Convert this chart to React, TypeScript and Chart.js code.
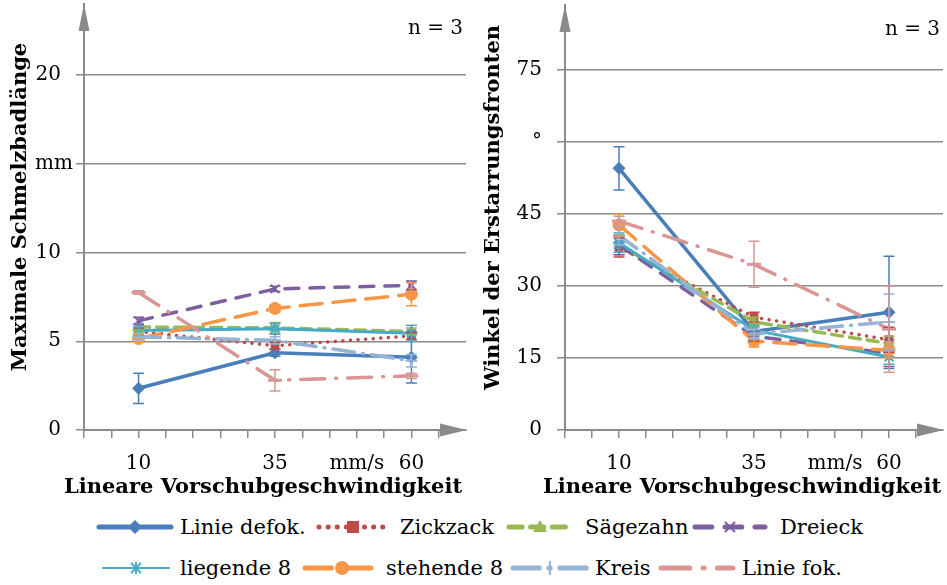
import React, { useEffect, useRef } from 'react';
import { Chart, registerables } from 'chart.js';

Chart.register(...registerables);

// ---------- data ----------
const speeds = [10, 35, 60];
const seriesNames = ['Linie defok.', 'Zickzack', 'Sägezahn', 'Dreieck', 'liegende 8', 'stehende 8', 'Kreis', 'Linie fok.'];

// left panel: Maximale Schmelzbadlänge (mm)
const lenLinieDefok = [2.35, 4.35, 4.1];
const lenZickzack = [5.55, 4.75, 5.3];
const lenSaegezahn = [5.8, 5.75, 5.55];
const lenDreieck = [6.15, 7.95, 8.15];
const lenLiegende8 = [5.6, 5.7, 5.45];
const lenStehende8 = [5.15, 6.85, 7.65];
const lenKreis = [5.25, 5.05, 3.9];
const lenLinieFok = [7.75, 2.8, 3.05];

const lenErrLinieDefok = [0.85, 0.2, 1.45];
const lenErrZickzack = [0.2, 0.2, 0.2];
const lenErrSaegezahn = [0.2, 0.3, 0.2];
const lenErrDreieck = [0.2, 0.15, 0.25];
const lenErrLiegende8 = [0.2, 0.3, 0.45];
const lenErrStehende8 = [0.2, 0.2, 0.65];
const lenErrKreis = [0.2, 0.2, 0.35];
const lenErrLinieFok = [0.1, 0.6, 0.15];

// right panel: Winkel der Erstarrungsfronten (°)
const angLinieDefok = [54.5, 20.5, 24.5];
const angZickzack = [38, 23.5, 18.8];
const angSaegezahn = [38.5, 22.5, 18];
const angDreieck = [38.5, 19.5, 16];
const angLiegende8 = [39, 20.8, 15.2];
const angStehende8 = [42.7, 18.5, 16.6];
const angKreis = [40.5, 20, 22.5];
const angLinieFok = [43.5, 34.5, 21];

const angErrLinieDefok = [4.5, 1, 11.7];
const angErrZickzack = [2, 1, 2.6];
const angErrSaegezahn = [2, 1, 1.5];
const angErrDreieck = [2, 1, 2.8];
const angErrLiegende8 = [2, 1, 1.5];
const angErrStehende8 = [2.3, 1.2, 1.5];
const angErrKreis = [2, 1, 5.8];
const angErrLinieFok = [1, 4.8, 9];

// axis ticks
const xMinorTicks = [0, 5, 10, 15, 20, 25, 30, 35, 40, 45, 50, 55, 60, 65];
const xLabelValues = [10, 35, 50, 60];
const xLabelTexts = ['10', '35', 'mm/s', '60'];
const lenTickValues = [0, 5, 10, 15, 20];
const lenTickTexts = ['0', '5', '10', '', '20'];
const lenUnitValue = 15;
const lenUnitText = 'mm';
const angTickValues = [0, 15, 30, 45, 60, 75];
const angTickTexts = ['0', '15', '30', '45', '°', '75'];
const xTitle = 'Lineare Vorschubgeschwindigkeit';

// ---------- styles ----------
const colors = ['#4A7EBB', '#BE4B48', '#98B954', '#7D5FA0', '#46AAC5', '#F79646', '#95B3D7', '#D99694'];
const dashes: number[][] = [[], [0.1, 7.5], [11, 7], [14, 11], [], [22, 11], [22, 8, 1, 8], [24, 11, 1, 11]];
const widths = [3.5, 3.5, 3.5, 3.5, 3, 3.5, 3.5, 3.5];
const markers = ['rectRot', 'rect', 'triangle', 'crossRot', 'star', 'circle', 'cross', 'line'];
const markerRadius = [6, 5.5, 6, 6, 6, 6, 6, 7];
const markerBorder = [1, 1, 1, 2, 2, 1, 2, 3];

const GRAY = '#8a8a8a';
const FONT = 'DejaVu Serif';

type PanelSpec = {
  values: number[][];
  errors: number[][];
  yMax: number;
  yTickValues: number[];
  yTickTexts: string[];
  unitValue?: number;
  unitText?: string;
  yTitle: string;
  yAxisWidth: number;
  yTitleX: number;
  padTop: number;
};

const errorBarPlugin = {
  id: 'errorBars',
  afterDatasetsDraw(chart: any) {
    const ctx = chart.ctx;
    const xs = chart.scales.x;
    const ys = chart.scales.y;
    chart.data.datasets.forEach((ds: any) => {
      const errs: number[] = ds.errorBars || [];
      ctx.save();
      ctx.strokeStyle = ds.borderColor;
      ctx.lineWidth = 1.5;
      ds.data.forEach((p: any, j: number) => {
        const e = errs[j];
        if (!e) return;
        const x = xs.getPixelForValue(p.x);
        const y1 = ys.getPixelForValue(p.y + e);
        const y2 = ys.getPixelForValue(p.y - e);
        ctx.beginPath();
        ctx.moveTo(x, y1);
        ctx.lineTo(x, y2);
        ctx.moveTo(x - 5.5, y1);
        ctx.lineTo(x + 5.5, y1);
        ctx.moveTo(x - 5.5, y2);
        ctx.lineTo(x + 5.5, y2);
        ctx.stroke();
      });
      ctx.restore();
    });
  },
};

function decorPlugin(spec: PanelSpec) {
  return {
    id: 'decor',
    afterDraw(chart: any) {
      const ctx = chart.ctx;
      const { left, top, right, bottom } = chart.chartArea;
      ctx.save();
      // axis arrows
      ctx.fillStyle = GRAY;
      ctx.beginPath();
      ctx.moveTo(left, top);
      ctx.lineTo(left - 5.5, top + 27);
      ctx.lineTo(left + 5.5, top + 27);
      ctx.closePath();
      ctx.fill();
      ctx.beginPath();
      ctx.moveTo(right + 1, bottom);
      ctx.lineTo(right - 26, bottom - 6.5);
      ctx.lineTo(right - 26, bottom + 6.5);
      ctx.closePath();
      ctx.fill();

      ctx.fillStyle = '#000';
      // sample size note
      ctx.font = `20px "${FONT}"`;
      ctx.textAlign = 'right';
      ctx.textBaseline = 'middle';
      ctx.fillText('n = 3', right - 3, top + 25);

      // unit label on y axis
      if (spec.unitText && spec.unitValue !== undefined) {
        ctx.font = `20px "${FONT}"`;
        ctx.textAlign = 'right';
        ctx.fillText(spec.unitText, left - 11, chart.scales.y.getPixelForValue(spec.unitValue));
      }

      // axis titles
      ctx.font = `bold 21px "${FONT}"`;
      ctx.textAlign = 'center';
      ctx.fillText(xTitle, (left + right) / 2 - 12, bottom + 58);

      ctx.translate(spec.yTitleX, (top + bottom) / 2 - 10);
      ctx.rotate(-Math.PI / 2);
      ctx.fillText(spec.yTitle, 0, 0);
      ctx.restore();
    },
  };
}

function buildConfig(spec: PanelSpec): any {
  return {
    type: 'line',
    data: {
      datasets: spec.values.map((vals, i) => ({
        label: seriesNames[i],
        data: vals.map((y, j) => ({ x: speeds[j], y })),
        errorBars: spec.errors[i],
        borderColor: colors[i],
        backgroundColor: colors[i],
        borderWidth: widths[i],
        borderDash: dashes[i],
        borderCapStyle: 'round',
        borderJoinStyle: 'round',
        pointStyle: markers[i],
        pointRadius: markerRadius[i],
        pointBorderWidth: markerBorder[i],
        pointBorderColor: colors[i],
        pointBackgroundColor: colors[i],
        tension: 0,
        order: seriesNames.length - i,
      })),
    },
    options: {
      responsive: false,
      animation: false,
      devicePixelRatio: 1,
      layout: { autoPadding: false, padding: { top: spec.padTop, right: 4, left: 0, bottom: 0 } },
      plugins: { legend: { display: false }, tooltip: { enabled: false } },
      scales: {
        x: {
          type: 'linear',
          min: 0,
          max: 70,
          afterBuildTicks: (s: any) => {
            s.ticks = xMinorTicks.map((v) => ({ value: v }));
          },
          afterFit: (s: any) => {
            s.height = 75;
            s.paddingLeft = 0;
            s.paddingRight = 0;
            s.paddingTop = 0;
            s.paddingBottom = 0;
          },
          ticks: {
            autoSkip: false,
            maxRotation: 0,
            padding: 14,
            color: '#000',
            font: { family: FONT, size: 20 },
            callback: (v: any) => {
              const k = xLabelValues.indexOf(Number(v));
              return k >= 0 ? xLabelTexts[k] : '';
            },
          },
          grid: { drawOnChartArea: false, drawTicks: true, tickLength: 8, color: GRAY, lineWidth: 1.5 },
          border: { display: true, color: GRAY, width: 2 },
          title: { display: false },
        },
        y: {
          type: 'linear',
          min: 0,
          max: spec.yMax,
          afterBuildTicks: (s: any) => {
            s.ticks = spec.yTickValues.map((v) => ({ value: v }));
          },
          afterFit: (s: any) => {
            s.width = spec.yAxisWidth;
            s.paddingTop = 0;
            s.paddingBottom = 0;
            s.paddingLeft = 0;
            s.paddingRight = 0;
          },
          ticks: {
            padding: 15,
            color: '#000',
            font: { family: FONT, size: 20 },
            callback: (v: any) => {
              const k = spec.yTickValues.indexOf(Number(v));
              return k >= 0 ? spec.yTickTexts[k] : '';
            },
          },
          grid: { color: GRAY, lineWidth: 1.5, tickLength: 8, drawTicks: true },
          border: { display: true, color: GRAY, width: 2 },
          title: { display: false },
        },
      },
    },
    plugins: [errorBarPlugin, decorPlugin(spec)],
  };
}

const leftSpec: PanelSpec = {
  values: [lenLinieDefok, lenZickzack, lenSaegezahn, lenDreieck, lenLiegende8, lenStehende8, lenKreis, lenLinieFok],
  errors: [lenErrLinieDefok, lenErrZickzack, lenErrSaegezahn, lenErrDreieck, lenErrLiegende8, lenErrStehende8, lenErrKreis, lenErrLinieFok],
  yMax: 24,
  yTickValues: lenTickValues,
  yTickTexts: lenTickTexts,
  unitValue: lenUnitValue,
  unitText: lenUnitText,
  yTitle: 'Maximale Schmelzbadlänge',
  yAxisWidth: 84,
  yTitleX: 21,
  padTop: 4,
};

const rightSpec: PanelSpec = {
  values: [angLinieDefok, angZickzack, angSaegezahn, angDreieck, angLiegende8, angStehende8, angKreis, angLinieFok],
  errors: [angErrLinieDefok, angErrZickzack, angErrSaegezahn, angErrDreieck, angErrLiegende8, angErrStehende8, angErrKreis, angErrLinieFok],
  yMax: 88.5,
  yTickValues: angTickValues,
  yTickTexts: angTickTexts,
  yTitle: 'Winkel der Erstarrungsfronten',
  yAxisWidth: 95,
  yTitleX: 24,
  padTop: 5,
};

function Panel({ spec, left, width, height }: { spec: PanelSpec; left: number; width: number; height: number }) {
  const ref = useRef<HTMLCanvasElement>(null);
  useEffect(() => {
    const chart = new Chart(ref.current as HTMLCanvasElement, buildConfig(spec));
    return () => chart.destroy();
  }, []);
  return (
    <canvas
      ref={ref}
      width={width}
      height={height}
      style={{ position: 'absolute', left, top: 0, width, height }}
    />
  );
}

function Marker({ kind, color, cx, cy }: { kind: string; color: string; cx: number; cy: number }) {
  const r = 7;
  switch (kind) {
    case 'rectRot':
      return <polygon points={`${cx},${cy - r} ${cx + r},${cy} ${cx},${cy + r} ${cx - r},${cy}`} fill={color} />;
    case 'rect':
      return <rect x={cx - 6} y={cy - 6} width={12} height={12} fill={color} />;
    case 'triangle':
      return <polygon points={`${cx},${cy - r} ${cx + r},${cy + 5} ${cx - r},${cy + 5}`} fill={color} />;
    case 'crossRot':
      return (
        <g stroke={color} strokeWidth={2}>
          <line x1={cx - 5} y1={cy - 5} x2={cx + 5} y2={cy + 5} />
          <line x1={cx - 5} y1={cy + 5} x2={cx + 5} y2={cy - 5} />
        </g>
      );
    case 'star':
      return (
        <g stroke={color} strokeWidth={2}>
          <line x1={cx - 5} y1={cy - 5} x2={cx + 5} y2={cy + 5} />
          <line x1={cx - 5} y1={cy + 5} x2={cx + 5} y2={cy - 5} />
          <line x1={cx} y1={cy - 6} x2={cx} y2={cy + 6} />
        </g>
      );
    case 'circle':
      return <circle cx={cx} cy={cy} r={7} fill={color} />;
    case 'cross':
      return (
        <g stroke={color} strokeWidth={2}>
          <line x1={cx} y1={cy - 7} x2={cx} y2={cy + 7} />
        </g>
      );
    default:
      return null;
  }
}

const legendLayout = [
  { sx: 96, sw: 78, tx: 180, row: 0 },
  { sx: 316, sw: 74, tx: 400, row: 0 },
  { sx: 506, sw: 68, tx: 585, row: 0 },
  { sx: 692, sw: 76, tx: 780, row: 0 },
  { sx: 100, sw: 72, tx: 180, row: 1 },
  { sx: 302, sw: 80, tx: 386, row: 1 },
  { sx: 510, sw: 80, tx: 595, row: 1 },
  { sx: 658, sw: 78, tx: 742, row: 1 },
];
const legendRowY = [527, 568];

function Legend() {
  return (
    <>
      {seriesNames.map((name, i) => {
        const L = legendLayout[i];
        const cy = legendRowY[L.row];
        const lw = i === 4 ? 2 : 5;
        const d = dashes[i];
        const dash = d.length ? d.map((v) => (v < 1 ? 0.1 : v * 1.2)).join(' ') : undefined;
        return (
          <React.Fragment key={name}>
            <svg width={L.sw} height={20} style={{ position: 'absolute', left: L.sx, top: cy - 10 }}>
              <line
                x1={3}
                y1={10}
                x2={L.sw - 3}
                y2={10}
                stroke={colors[i]}
                strokeWidth={lw}
                strokeLinecap="round"
                strokeDasharray={dash}
              />
              <Marker kind={markers[i]} color={colors[i]} cx={L.sw / 2} cy={10} />
            </svg>
            <div
              style={{
                position: 'absolute',
                left: L.tx,
                top: cy - 14,
                height: 28,
                lineHeight: '28px',
                fontFamily: FONT,
                fontSize: 21,
                color: '#000',
                whiteSpace: 'nowrap',
              }}
            >
              {name}
            </div>
          </React.Fragment>
        );
      })}
    </>
  );
}

export default function App() {
  return (
    <div
      style={{
        position: 'fixed',
        left: 0,
        top: 0,
        width: 947,
        height: 585,
        background: '#fff',
        overflow: 'hidden',
      }}
    >
      <Panel spec={leftSpec} left={0} width={470} height={505} />
      <Panel spec={rightSpec} left={470} width={477} height={505} />
      <Legend />
    </div>
  );
}
